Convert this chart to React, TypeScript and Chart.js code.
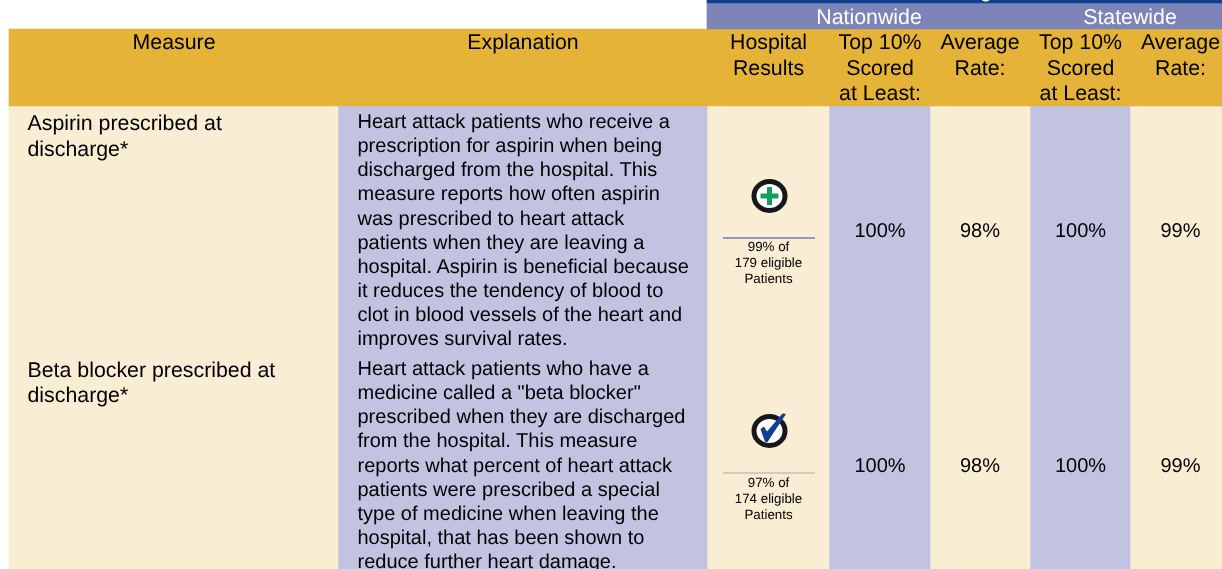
import React, { useEffect, useRef } from "react";
import { Chart, registerables } from "chart.js";

Chart.register(...registerables);

const WIDTH = 1222;
const HEIGHT = 569;

// ---- Table content ----
const groupLabels = ["Nationwide", "Statewide"];
const columnHeaders = [
  ["Measure"],
  ["Explanation"],
  ["Hospital", "Results"],
  ["Top 10%", "Scored", "at Least:"],
  ["Average", "Rate:"],
  ["Top 10%", "Scored", "at Least:"],
  ["Average", "Rate:"],
];
const measures = [
  ["Aspirin prescribed at", "discharge*"],
  ["Beta blocker prescribed at", "discharge*"],
];
const explanations = [
  [
    "Heart attack patients who receive a",
    "prescription for aspirin when being",
    "discharged from the hospital. This",
    "measure reports how often aspirin",
    "was prescribed to heart attack",
    "patients when they are leaving a",
    "hospital. Aspirin is beneficial because",
    "it reduces the tendency of blood to",
    "clot in blood vessels of the heart and",
    "improves survival rates.",
  ],
  [
    "Heart attack patients who have a",
    'medicine called a "beta blocker"',
    "prescribed when they are discharged",
    "from the hospital. This measure",
    "reports what percent of heart attack",
    "patients were prescribed a special",
    "type of medicine when leaving the",
    "hospital, that has been shown to",
    "reduce further heart damage.",
  ],
];
const hospitalResults = [
  ["99% of", "179 eligible", "Patients"],
  ["97% of", "174 eligible", "Patients"],
];
const nationTop = ["100%", "100%"];
const nationAvg = ["98%", "98%"];
const stateTop = ["100%", "100%"];
const stateAvg = ["99%", "99%"];

// ---- Layout (pixel units on the hidden linear scales) ----
const colEdges = [9, 338, 707, 829, 930, 1030, 1130, 1222];
const colCenters = [174, 523, 768.5, 880, 980, 1080.5, 1180.5];
const headTop = 29;
const headBottom = 106;
const valueBaselines = [237, 472];
const iconCenters = [196, 431];
const ruleY = [238, 473];
const smallBaselines = [[251, 267, 283], [487, 503, 519]];
const firstBaselines = [128, 375];
const measureBaselines = [130, 376.5];
const LINE = 24.15;
const checkPath = [[-9, -2], [-5.5, -4.5], [-2.5, 0.5], [13, -17.5], [16.5, -17], [-2, 11], [-4.5, 11]];

const BLUE = "#0f3f8f";
const PERI = "#7c84b8";
const GOLD = "#e4b338";
const LAV = "#c1c3e0";
const CREAM = "#f9edd4";
const INK = "#000000";
const FONT = '"Liberation Sans", Arial, sans-serif';

type Band = { x0: number; x1: number; y0: number; y1: number; color: string };

const bands: Band[] = [
  { x0: 707, x1: WIDTH, y0: 0, y1: 3, color: BLUE },
  { x0: 707, x1: WIDTH, y0: 3, y1: headTop, color: PERI },
  { x0: colEdges[0], x1: WIDTH, y0: headTop, y1: headBottom, color: GOLD },
  ...colEdges.slice(0, -1).map((x0, i) => ({
    x0,
    x1: colEdges[i + 1],
    y0: headBottom,
    y1: HEIGHT,
    color: i % 2 === 0 ? CREAM : LAV,
  })),
];

const tablePlugin = {
  id: "tableText",
  afterDatasetsDraw(chart: any) {
    const { ctx, scales } = chart;
    const X = (v: number) => scales.x.getPixelForValue(v);
    const Y = (v: number) => scales.y.getPixelForValue(v);
    const text = (s: string, x: number, y: number, size: number, color = INK, align: CanvasTextAlign = "center") => {
      ctx.font = `${size}px ${FONT}`;
      ctx.textRendering = "geometricPrecision";
      ctx.fillStyle = color;
      ctx.textAlign = align;
      ctx.textBaseline = "alphabetic";
      ctx.fillText(s, X(x), Y(y));
    };
    ctx.save();
    // clipped descender of the title above the table
    text("g", 986, -3, 21.33, "#ffffff");
    text(groupLabels[0], 869, 24, 21.33, "#ffffff");
    text(groupLabels[1], 1130, 24, 21.33, "#ffffff");
    const headBases = [49, 74.5, 100];
    columnHeaders.forEach((lines, c) =>
      lines.forEach((l, i) => text(l, colCenters[c], headBases[i], 21.33))
    );
    measures.forEach((lines, r) =>
      lines.forEach((l, i) => text(l, 27.5, measureBaselines[r] + i * 25.5, 21.33, INK, "left"))
    );
    explanations.forEach((lines, r) =>
      lines.forEach((l, i) => text(l, 357.5, firstBaselines[r] + i * LINE, 20, INK, "left"))
    );
    [nationTop, nationAvg, stateTop, stateAvg].forEach((vals, c) =>
      vals.forEach((v, r) => text(v, colCenters[c + 3], valueBaselines[r], 20))
    );
    hospitalResults.forEach((lines, r) => {
      ctx.fillStyle = r === 0 ? "#8f96c8" : "#a9aab5";
      ctx.fillRect(X(723), Y(ruleY[r] - (r === 0 ? 1 : 0.5)), X(815) - X(723), r === 0 ? 2 : 1);
      lines.forEach((l, i) => text(l, 768.5, smallBaselines[r][i], 13.33));
      // result icon
      const cx = X(769.5);
      const cy = Y(iconCenters[r]);
      ctx.beginPath();
      ctx.ellipse(cx, cy, 15.5, 14.5, 0, 0, Math.PI * 2);
      ctx.fillStyle = "#ffffff";
      ctx.fill();
      ctx.lineWidth = 5;
      ctx.strokeStyle = "#17171c";
      ctx.stroke();
      if (r === 0) {
        ctx.fillStyle = "#12a05c";
        ctx.fillRect(cx - 9, cy - 2.5, 18, 5);
        ctx.fillRect(cx - 2.5, cy - 9, 5, 18);
      } else {
        ctx.beginPath();
        checkPath.forEach(([dx, dy], i) =>
          i === 0 ? ctx.moveTo(cx + dx, cy + dy) : ctx.lineTo(cx + dx, cy + dy)
        );
        ctx.closePath();
        ctx.fillStyle = "#123f92";
        ctx.fill();
      }
    });
    ctx.restore();
  },
};

export default function App() {
  const ref = useRef<HTMLCanvasElement>(null);
  useEffect(() => {
    if (!ref.current) return;
    const chart = new Chart(ref.current, {
      type: "bar",
      data: {
        datasets: bands.map((b) => ({
          data: [{ x: [b.x0, b.x1], y: (b.y0 + b.y1) / 2 }],
          backgroundColor: b.color,
          barThickness: b.y1 - b.y0,
          borderWidth: 0,
          grouped: false,
        })),
      } as any,
      options: {
        indexAxis: "y",
        animation: false,
        responsive: false,
        layout: { padding: 0 },
        plugins: { legend: { display: false }, tooltip: { enabled: false } },
        scales: {
          x: { type: "linear", min: 0, max: WIDTH, display: false, offset: false },
          y: { type: "linear", min: 0, max: HEIGHT, reverse: true, display: false, offset: false },
        },
      } as any,
      plugins: [tablePlugin],
    });
    return () => chart.destroy();
  }, []);
  return (
    <canvas
      ref={ref}
      width={WIDTH}
      height={HEIGHT}
      style={{ position: "fixed", left: 0, top: 0, width: WIDTH, height: HEIGHT, display: "block" }}
    />
  );
}
